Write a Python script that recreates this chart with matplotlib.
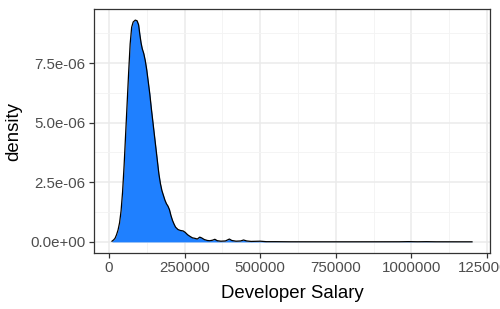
import matplotlib
matplotlib.use("Agg")
import matplotlib.pyplot as plt
from matplotlib.ticker import FixedLocator

# Data (salary, density in 1e-6 units)
salary = [10000, 15000, 20000, 25000, 30000, 35000, 40000, 45000, 50000, 55000,
          60000, 65000, 70000, 75000, 80000, 87000, 93000, 98000, 102000, 106000,
          110000, 115000, 120000, 125000, 130000, 135000, 140000, 145000, 150000,
          155000, 160000, 165000, 170000, 175000, 180000, 185000, 190000, 195000,
          200000, 205000, 210000, 215000, 220000, 228000, 236000, 245000, 252000,
          260000, 268000, 276000, 284000, 292000, 300000, 306000, 315000, 325000,
          333000, 342000, 350000, 358000, 370000, 385000, 398000, 406000, 420000,
          435000, 445000, 455000, 470000, 500000, 520000, 550000, 600000, 700000,
          800000, 900000, 960000, 990000, 1020000, 1050000, 1080000, 1150000, 1200000]
density_e6 = [0.03, 0.08, 0.15, 0.30, 0.50, 0.80, 1.30, 2.10, 3.20, 4.50,
              5.80, 7.10, 8.30, 9.00, 9.22, 9.30, 9.27, 9.10, 8.70, 8.35,
              8.10, 7.90, 7.60, 7.20, 6.70, 6.20, 5.60, 5.05, 4.50,
              3.95, 3.40, 2.85, 2.45, 2.15, 1.95, 1.75, 1.60, 1.50,
              1.35, 1.10, 0.90, 0.75, 0.62, 0.52, 0.48, 0.46, 0.40,
              0.30, 0.23, 0.17, 0.15, 0.12, 0.20, 0.17, 0.10, 0.06,
              0.05, 0.07, 0.11, 0.05, 0.03, 0.04, 0.12, 0.06, 0.03,
              0.04, 0.08, 0.04, 0.02, 0.03, 0.01, 0.01, 0.005, 0.004,
              0.004, 0.005, 0.006, 0.012, 0.006, 0.01, 0.005, 0.004, 0.004]
density = [d * 1e-6 for d in density_e6]

x_ticks = [0, 250000, 500000, 750000, 1000000, 1250000]
y_ticks = [0.0, 2.5e-6, 5.0e-6, 7.5e-6]
y_tick_labels = ["0.0e+00", "2.5e-06", "5.0e-06", "7.5e-06"]

plt.rcParams['font.family'] = ['Liberation Sans', 'DejaVu Sans']

fig = plt.figure(figsize=(5.0, 3.09), dpi=100)
ax = fig.add_axes([94/500, 1 - 253/309, (490-94)/500, (253-9)/309])

ax.fill_between(salary, density, 0, color='#1F80FF', linewidth=0, zorder=2)
ax.plot(salary, density, color='black', linewidth=0.9, zorder=3)

xmin, xmax = min(salary), max(salary)
xr = xmax - xmin
ax.set_xlim(xmin - 0.05 * xr, xmax + 0.05 * xr)
ymax = max(density)
ax.set_ylim(-0.05 * ymax, ymax * 1.05)

ax.xaxis.set_major_locator(FixedLocator(x_ticks))
ax.yaxis.set_major_locator(FixedLocator(y_ticks))
ax.xaxis.set_minor_locator(FixedLocator([125000, 375000, 625000, 875000, 1125000]))
ax.yaxis.set_minor_locator(FixedLocator([1.25e-6, 3.75e-6, 6.25e-6, 8.75e-6]))
ax.set_xticklabels([str(t) for t in x_ticks])
ax.set_yticklabels(y_tick_labels)

ax.grid(which='major', color='#EBEBEB', linewidth=1.1, zorder=0)
ax.grid(which='minor', color='#F3F3F3', linewidth=0.6, zorder=0)
ax.set_axisbelow(True)

for s in ax.spines.values():
    s.set_color('#333333')
    s.set_linewidth(0.9)

ax.tick_params(which='major', length=3.5, width=0.9, color='#333333',
               labelcolor='#4D4D4D', labelsize=10.8, pad=2.5)
ax.tick_params(which='minor', length=0)

ax.set_xlabel('Developer Salary', fontsize=13.4, color='black', labelpad=7)
ax.set_ylabel('density', fontsize=13.4, color='black', labelpad=6)

fig.savefig('out.png', dpi=100)
